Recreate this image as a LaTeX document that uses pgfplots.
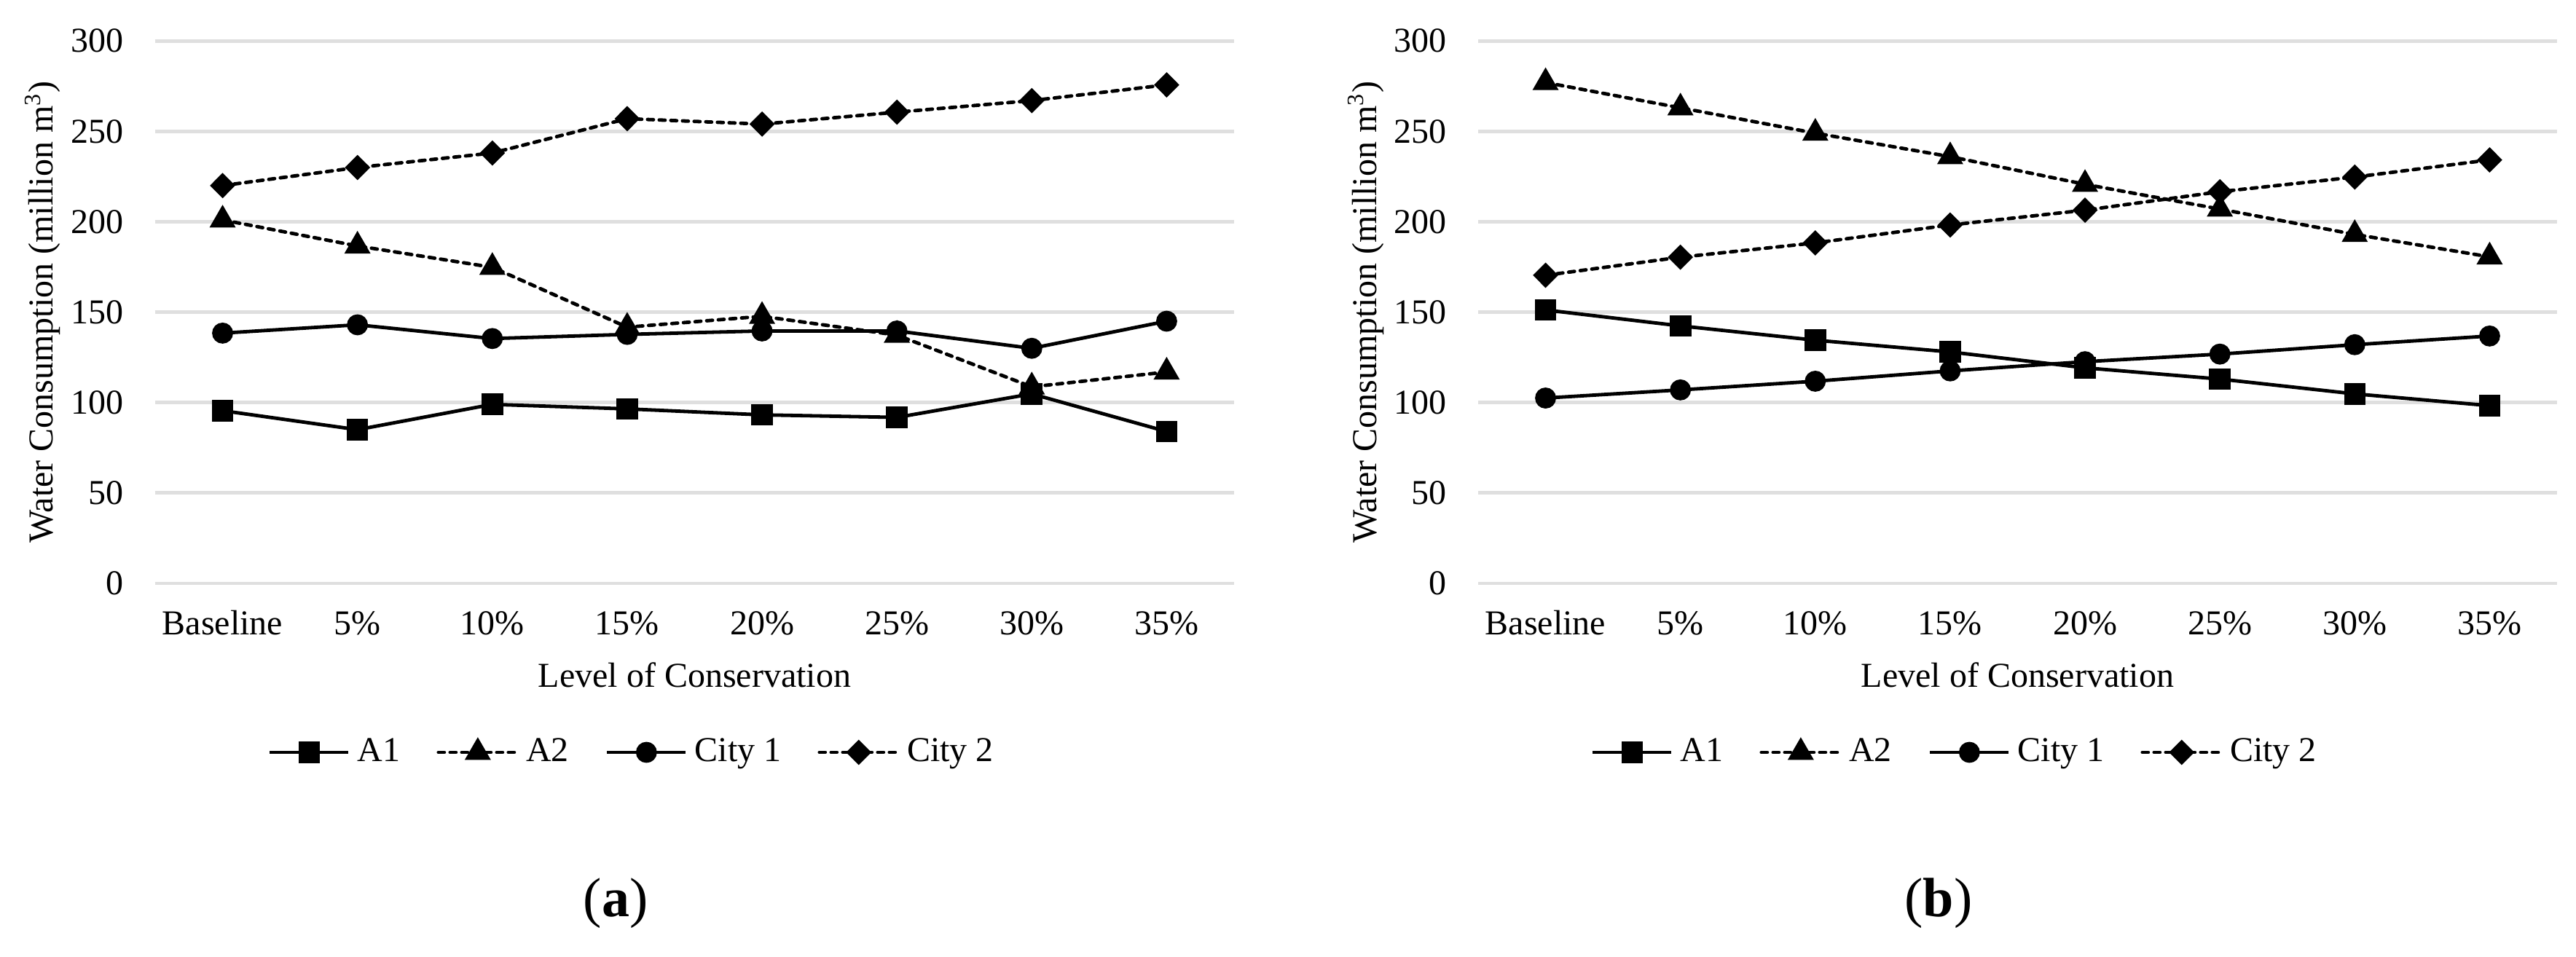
\documentclass[border=0pt]{standalone}
\usepackage{fontspec}
\setmainfont{Liberation Serif}
\usepackage{pgfplots}
\pgfplotsset{compat=1.18}

\definecolor{gridgray}{HTML}{DFDFDF}

% one reference pixel = 0.25pt
\pgfplotsset{
  wc axis/.style={
    scale only axis,
    width=370.25pt, height=186.2pt,
    anchor=south west,
    xmin=-0.5, xmax=7.5, ymin=0, ymax=300,
    xtick={0,...,7},
    xticklabels={Baseline,5\%,10\%,15\%,20\%,25\%,30\%,35\%},
    ytick={0,50,...,300},
    ymajorgrids,
    major grid style={line width=1.2pt, color=gridgray},
    axis line style={draw=none},
    major tick style={draw=none},
    /pgf/number format/assume math mode=true,
    yticklabel style={anchor=east, inner sep=0pt, xshift=-10.75pt},
    xticklabel style={anchor=base, inner sep=0pt, yshift=-17.75pt},
    xlabel={Level of Conservation},
    xlabel style={at={([yshift=-35.5pt]axis description cs:0.5,0)}, anchor=base, inner sep=0pt},
    ylabel={Water Consumption (million m\textsuperscript{3})},
    ylabel style={at={([xshift=-35pt]axis description cs:0,0.5)}, rotate=0, anchor=base, inner sep=0pt},
    legend columns=4,
    legend style={at={(0.4409,-0.3115)}, anchor=center, draw=none, fill=none,
      inner sep=0pt, nodes={inner sep=0pt},
      /tikz/every odd column/.append style={column sep=2.5pt},
      /tikz/every even column/.append style={column sep=12.5pt}},
    legend cell align=left,
    legend image code/.code={
      \draw[mark repeat=2, mark phase=2, #1] plot coordinates {(0pt,0pt) (13.5pt,0pt) (27pt,0pt)};
    },
  },
  sA1/.style={black, line width=1.2pt, solid, mark=square*, mark size=3.1pt},
  sA2/.style={black, line width=1.2pt, dash pattern=on 2pt off 2pt, line cap=round,
    mark=triangle*, mark size=4pt, mark options={solid}},
  sC1/.style={black, line width=1.2pt, solid, mark=*, mark size=3pt},
  sC2/.style={black, line width=1.2pt, dash pattern=on 2pt off 2pt, line cap=round,
    mark=diamond*, mark size=3.5pt, mark options={solid, xscale=1.33}},
}

\begin{document}
\begin{tikzpicture}[font=\fontsize{12}{14}\selectfont]
\useasboundingbox (0,0) rectangle (884pt,-328.5pt);

% (a)
\begin{axis}[wc axis, at={(53.25pt,-200.25pt)}]
\addplot[sA1] coordinates {(0,95.5) (1,85) (2,99) (3,96.5) (4,93.2) (5,91.8) (6,104.8) (7,84)};
\addlegendentry{A1}
\addplot[sA2] coordinates {(0,201) (1,186.6) (2,174.8) (3,141.7) (4,147.7) (5,137.3) (6,108.7) (7,116.9)};
\addlegendentry{A2}
\addplot[sC1] coordinates {(0,138.4) (1,143) (2,135.4) (3,137.7) (4,139.6) (5,139.6) (6,130) (7,145)};
\addlegendentry{City 1}
\addplot[sC2] coordinates {(0,220) (1,230) (2,238) (3,257) (4,254) (5,260.6) (6,267) (7,275.7)};
\addlegendentry{City 2}
\end{axis}

% (b)
\begin{axis}[wc axis, at={(507.25pt,-200.25pt)}]
\addplot[sA1] coordinates {(0,151.2) (1,142.4) (2,134.5) (3,128) (4,119.2) (5,113) (6,104.8) (7,98.3)};
\addlegendentry{A1}
\addplot[sA2] coordinates {(0,277) (1,263) (2,249) (3,236) (4,220.7) (5,207) (6,193) (7,180.6)};
\addlegendentry{A2}
\addplot[sC1] coordinates {(0,102.5) (1,107) (2,111.8) (3,117.5) (4,122.6) (5,126.8) (6,132) (7,136.8)};
\addlegendentry{City 1}
\addplot[sC2] coordinates {(0,170.4) (1,180.4) (2,188.3) (3,198.2) (4,206.4) (5,216.6) (6,224.7) (7,234.2)};
\addlegendentry{City 2}
\end{axis}

\node[font=\fontsize{19}{22}\selectfont] at (211.25pt,-310pt) {(\textbf{a})};
\node[font=\fontsize{19}{22}\selectfont] at (665.25pt,-310pt) {(\textbf{b})};
\end{tikzpicture}
\end{document}
